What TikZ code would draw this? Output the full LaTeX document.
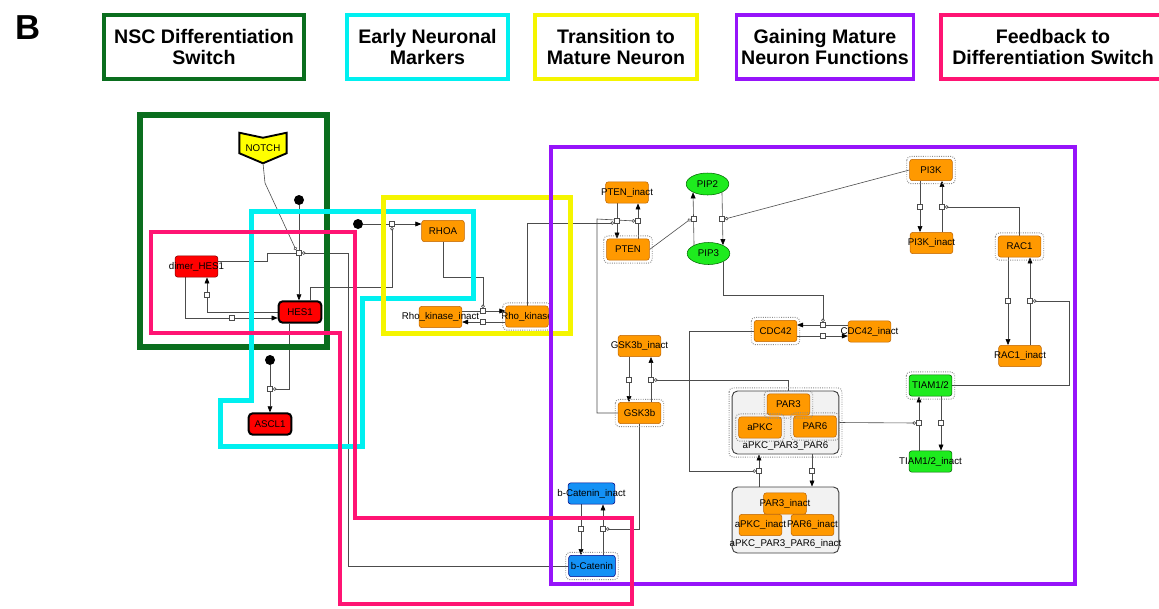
\documentclass[tikz,border=0pt]{standalone}
\usepackage{fontspec}
\setmainfont{Liberation Sans}
\usetikzlibrary{arrows.meta,shapes.geometric}
\pgfdeclarelayer{bg}
\pgfsetlayers{bg,main}

\definecolor{orng}{RGB}{255,153,0}
\definecolor{orngline}{RGB}{190,100,0}
\definecolor{redn}{RGB}{255,0,0}
\definecolor{grnn}{RGB}{30,235,30}
\definecolor{blun}{RGB}{20,145,245}
\definecolor{notchy}{RGB}{255,255,0}
\definecolor{zgreen}{RGB}{10,110,30}
\definecolor{zcyan}{RGB}{0,240,240}
\definecolor{zyellow}{RGB}{245,245,0}
\definecolor{zpurple}{RGB}{150,20,250}
\definecolor{zpink}{RGB}{255,20,115}
\newcommand{\nodefont}{\fontsize{7.3}{8}\selectfont}
\newcommand{\lbl}[1]{\makebox[0pt]{#1}}

\begin{document}
\begin{tikzpicture}[x=0.75pt,y=-0.75pt,
    mol/.style={rectangle,rounded corners=2pt,draw=orngline,fill=orng,line width=0.4pt,minimum width=32pt,minimum height=16pt,inner sep=0pt,font=\nodefont},
    redmol/.style={mol,fill=redn,draw=red!50!black},
    gene/.style={mol,fill=redn,draw=black,line width=1.5pt,rounded corners=3pt},
    grnmol/.style={mol,fill=grnn,draw=green!40!black},
    blumol/.style={mol,fill=blun,draw=blue!50!black},
    lipid/.style={ellipse,draw=green!40!black,fill=grnn,line width=0.4pt,minimum width=32pt,minimum height=16.5pt,inner sep=0pt,font=\nodefont},
    cplx/.style={rectangle,rounded corners=4pt,draw=black!75,fill=black!5,line width=0.7pt,minimum width=80pt},
    proc/.style={rectangle,draw=black!70,fill=white,line width=0.4pt,minimum size=4pt,inner sep=0pt},
    src/.style={circle,fill=black,minimum size=7.5pt,inner sep=0pt},
    halo/.style={draw=black!45,densely dotted,line width=0.7pt,rounded corners=3pt},
    link/.style={draw=black!70,line width=0.45pt},
    prod/.style={link,-{Triangle[length=4.5pt,width=3.6pt,color=black]}},
    mod/.style={link,-{Circle[open,length=2.6pt]}},
    zone/.style={line width=3.75pt},
    key/.style={draw,line width=2.5pt,minimum height=48pt,align=center,font=\bfseries\fontsize{14.7}{15.75}\selectfont}
  ]
  \useasboundingbox (0,0) rectangle (1159,608);

  % legend
  \node[font=\bfseries\fontsize{26}{28}\selectfont] (panel) at (28.5,27.5) {B};
  \node[key,draw=zgreen,minimum width=150pt] (kNsc) at (204,47) {NSC Differentiation\\Switch};
  \node[key,draw=zcyan,minimum width=120.75pt] (kEarly) at (427.5,47) {Early Neuronal\\Markers};
  \node[key,draw=zyellow,minimum width=121.5pt] (kTrans) at (616,47) {Transition to\\Mature Neuron};
  \node[key,draw=zpurple,minimum width=132pt] (kMature) at (825,47) {Gaining Mature\\Neuron Functions};
  \node[key,draw=zpink,minimum width=168pt] (kFeed) at (1053,47) {Feedback to\\Differentiation Switch};

  % differentiation switch
  \node[font=\nodefont,minimum width=35pt,minimum height=22.5pt,inner sep=0pt] (notch) at (263,148) {NOTCH};
  \node[src] (s1) at (299,200) {};
  \node[src] (s2) at (358,224) {};
  \node[src] (s3) at (270,360) {};
  \node[redmol] (dimer) at (196.5,266.5) {\lbl{dimer\_HES1}};
  \node[gene] (hes1) at (300,312) {HES1};
  \node[gene] (ascl1) at (270,424) {ASCL1};

  % rho and mature neuron part
  \node[mol] (rhoa) at (443,231) {RHOA};
  \node[mol] (rokI) at (440.5,317) {\lbl{Rho\_kinase\_inact}};
  \node[mol] (rok) at (527,316.5) {\lbl{Rho\_kinase}};
  \node[mol] (ptenI) at (627,192.5) {\lbl{PTEN\_inact}};
  \node[mol] (pten) at (628,249.5) {PTEN};
  \node[lipid] (pip2) at (707.5,184) {PIP2};
  \node[lipid] (pip3) at (708.5,253.5) {PIP3};
  \node[mol] (pi3k) at (931,170) {PI3K};
  \node[mol] (pi3kI) at (931.5,243) {\lbl{PI3K\_inact}};
  \node[mol] (rac1) at (1019.5,246.5) {RAC1};
  \node[mol] (racI) at (1020,356) {\lbl{RAC1\_inact}};
  \node[mol] (cdc42) at (775.5,331) {CDC42};
  \node[mol] (cdcI) at (869.5,331.5) {\lbl{CDC42\_inact}};
  \node[grnmol] (tiam) at (930.5,385.5) {TIAM1/2};
  \node[grnmol] (tiamI) at (930.5,461.5) {\lbl{TIAM1/2\_inact}};
  \node[mol] (gskI) at (639.5,346) {\lbl{GSK3b\_inact}};
  \node[mol] (gsk) at (639.5,413) {GSK3b};
  \node[cplx,minimum height=47.25pt] (cpx) at (785.5,422.5) {};
  \node[mol] (par3) at (788.5,404.5) {PAR3};
  \node[mol] (apkc) at (760,427.5) {aPKC};
  \node[mol] (par6) at (815,426.5) {PAR6};
  \node[font=\nodefont] (cpxLbl) at (785.5,446) {aPKC\_PAR3\_PAR6};
  \node[cplx,minimum height=49.5pt] (cpxI) at (785.5,520) {};
  \node[mol] (par3I) at (785,503.5) {\lbl{PAR3\_inact}};
  \node[mol] (apkcI) at (760.5,525) {\lbl{aPKC\_inact}};
  \node[mol] (par6I) at (812.5,525) {\lbl{PAR6\_inact}};
  \node[font=\nodefont] (cpxILbl) at (785.5,544) {aPKC\_PAR3\_PAR6\_inact};
  \node[blumol,minimum width=35pt] (bcatI) at (591.5,493.5) {\lbl{b-Catenin\_inact}};
  \node[blumol,minimum width=35pt] (bcat) at (592,566) {b-Catenin};

  \foreach \n in {rok,pten,pi3k,rac1,cdc42,tiam,gsk,par3,apkc,par6,cpx,bcat}
    \draw[halo] ([shift={(-2pt,2pt)}]\n.north west) rectangle ([shift={(2pt,-2pt)}]\n.south east);

  % process squares
  \node[proc] (pHes) at (299,253) {};
  \node[proc] (pDimOn) at (207,295) {};
  \node[proc] (pDimOff) at (232,318) {};
  \node[proc] (pAscl) at (270,389) {};
  \node[proc] (pRhoa) at (392,224) {};
  \node[proc] (pRokOn) at (483,311) {};
  \node[proc] (pRokOff) at (483,322) {};
  \node[proc] (pPtenOn) at (617,221) {};
  \node[proc] (pPtenOff) at (638,221) {};
  \node[proc] (pPip2) at (693.5,219) {};
  \node[proc] (pPip3) at (722,219) {};
  \node[proc] (pCdcOn) at (823,325) {};
  \node[proc] (pCdcOff) at (823,336) {};
  \node[proc] (pPi3kOn) at (942,207) {};
  \node[proc] (pPi3kOff) at (920,207) {};
  \node[proc] (pRacOn) at (1030,301) {};
  \node[proc] (pRacOff) at (1008,301) {};
  \node[proc] (pTiamOn) at (919,423) {};
  \node[proc] (pTiamOff) at (941,423) {};
  \node[proc] (pParOn) at (759,471) {};
  \node[proc] (pParOff) at (812,471) {};
  \node[proc] (pGskOff) at (651,380) {};
  \node[proc] (pGskOn) at (629,380) {};
  \node[proc] (pCatOff) at (603,529) {};
  \node[proc] (pCatOn) at (581,529) {};

  \begin{pgfonlayer}{bg}
    \filldraw[fill=notchy,draw=black,line width=1.4pt] (notch.north west) -- ([yshift=-3.75pt]notch.north) -- (notch.north east) -- ([yshift=7.5pt]notch.south east) -- (notch.south) -- ([yshift=7.5pt]notch.south west) -- cycle;
    % HES1, dimer, ASCL1
    \draw[prod] (s1) -- (hes1.north -| s1);
    \draw[mod] (notch.south) -- (265,183) -- (pHes.north west);
    \draw[link] ([yshift=4pt]dimer.east) -| (267,253) -- (pHes.west);
    \draw[mod] (bcat.west) -| (348,253) -- (pHes.east);
    \draw[prod] (hes1.west) -| (dimer.south -| pDimOn);
    \draw[prod] ([xshift=-8.5pt]dimer.south) |- (hes1.west |- pDimOff);
    \draw[prod] (s3) -- (ascl1.north);
    \draw[mod] ([xshift=-8.25pt]hes1.south) |- (pAscl.east);
    % RHOA, Rho kinase
    \draw[prod] (s2) -- (s2 -| rhoa.west);
    \draw[mod] ([xshift=7.5pt]hes1.north) -- ++(0,-13) -| (pRhoa.south);
    \draw[prod] (rokI.east |- pRokOn) -- (rok.west |- pRokOn);
    \draw[prod] (rok.west |- pRokOff) -- (rokI.east |- pRokOff);
    \draw[mod] (rhoa.south) -- ++(0,35) -| (pRokOn.north);
    % PTEN, PIP2/PIP3
    \draw[prod] (ptenI.south -| pPtenOn) -- (pten.north -| pPtenOn);
    \draw[prod] (pten.north -| pPtenOff) -- (ptenI.south -| pPtenOff);
    \draw[mod] (rok.north) |- ([yshift=-1.5pt]pPtenOn.west);
    \draw[mod] (gsk.west) -| (597,219) -- (pPtenOff.west);
    \draw[prod] (pip3.150) -- (pip2.210);
    \draw[prod] (pip2.-30) -- (pip3.30);
    \draw[mod] (pten.east) -- (pPip2.west);
    \draw[mod] (pi3k.west) -- (pPip3.east);
    % CDC42
    \draw[prod] (cdcI.west |- pCdcOn) -- (cdc42.east |- pCdcOn);
    \draw[prod] (cdc42.east |- pCdcOff) -- (cdcI.west |- pCdcOff);
    \draw[mod] (pip3.-30) -- ++(0,33) -| (pCdcOn.north);
    % PI3K, RAC1, TIAM1/2
    \draw[prod] (pi3k.south -| pPi3kOff) -- (pi3kI.north -| pPi3kOff);
    \draw[prod] (pi3kI.north -| pPi3kOn) -- (pi3k.south -| pPi3kOn);
    \draw[mod] (rac1.north) |- (pPi3kOn.east);
    \draw[prod] (rac1.south -| pRacOff) -- (racI.north -| pRacOff);
    \draw[prod] (racI.north -| pRacOn) -- (rac1.south -| pRacOn);
    \draw[mod] (tiam.east) -- ++(117,0) |- (pRacOn.east);
    \draw[prod] (tiamI.north -| pTiamOn) -- (tiam.south -| pTiamOn);
    \draw[prod] (tiam.south -| pTiamOff) -- (tiamI.north -| pTiamOff);
    \draw[mod] (cpx.east) -- (pTiamOn.west);
    % PAR complex
    \draw[prod] (cpxI.north -| pParOn) -- (cpx.south -| pParOn);
    \draw[prod] (cpx.south -| pParOff) -- (cpxI.north -| pParOff);
    \draw[mod] (cdc42.west) -- ++(-65,0) |- (pParOn.west);
    % GSK3b, b-Catenin
    \draw[prod] (gsk.north -| pGskOff) -- (gskI.south -| pGskOff);
    \draw[prod] (gskI.south -| pGskOn) -- (gsk.north -| pGskOn);
    \draw[mod] (par3.north) |- (pGskOff.east);
    \draw[prod] (bcat.north -| pCatOff) -- (bcatI.south -| pCatOff);
    \draw[prod] (bcatI.south -| pCatOn) -- (bcat.north -| pCatOn);
    \draw[mod] (gsk.south) |- (pCatOff.east);
  \end{pgfonlayer}

  % regions
  \draw[zone,zgreen,line width=4.1pt] (140,115) rectangle (327,347);
  \draw[zone,zcyan] (251,211) -- (473,211) -- (473,298) -- (362,298) -- (362,446) -- (220,446) -- (220,400) -- (251,400) -- cycle;
  \draw[zone,zyellow] (383,197) rectangle (570,333);
  \draw[zone,zpurple,line width=3pt] (551,147) rectangle (1075,584);
  \draw[zone,zpink,line width=3.4pt] (151,232) -- (355,232) -- (355,518) -- (632,518) -- (632,604) -- (340,604) -- (340,333) -- (151,333) -- cycle;
\end{tikzpicture}
\end{document}
